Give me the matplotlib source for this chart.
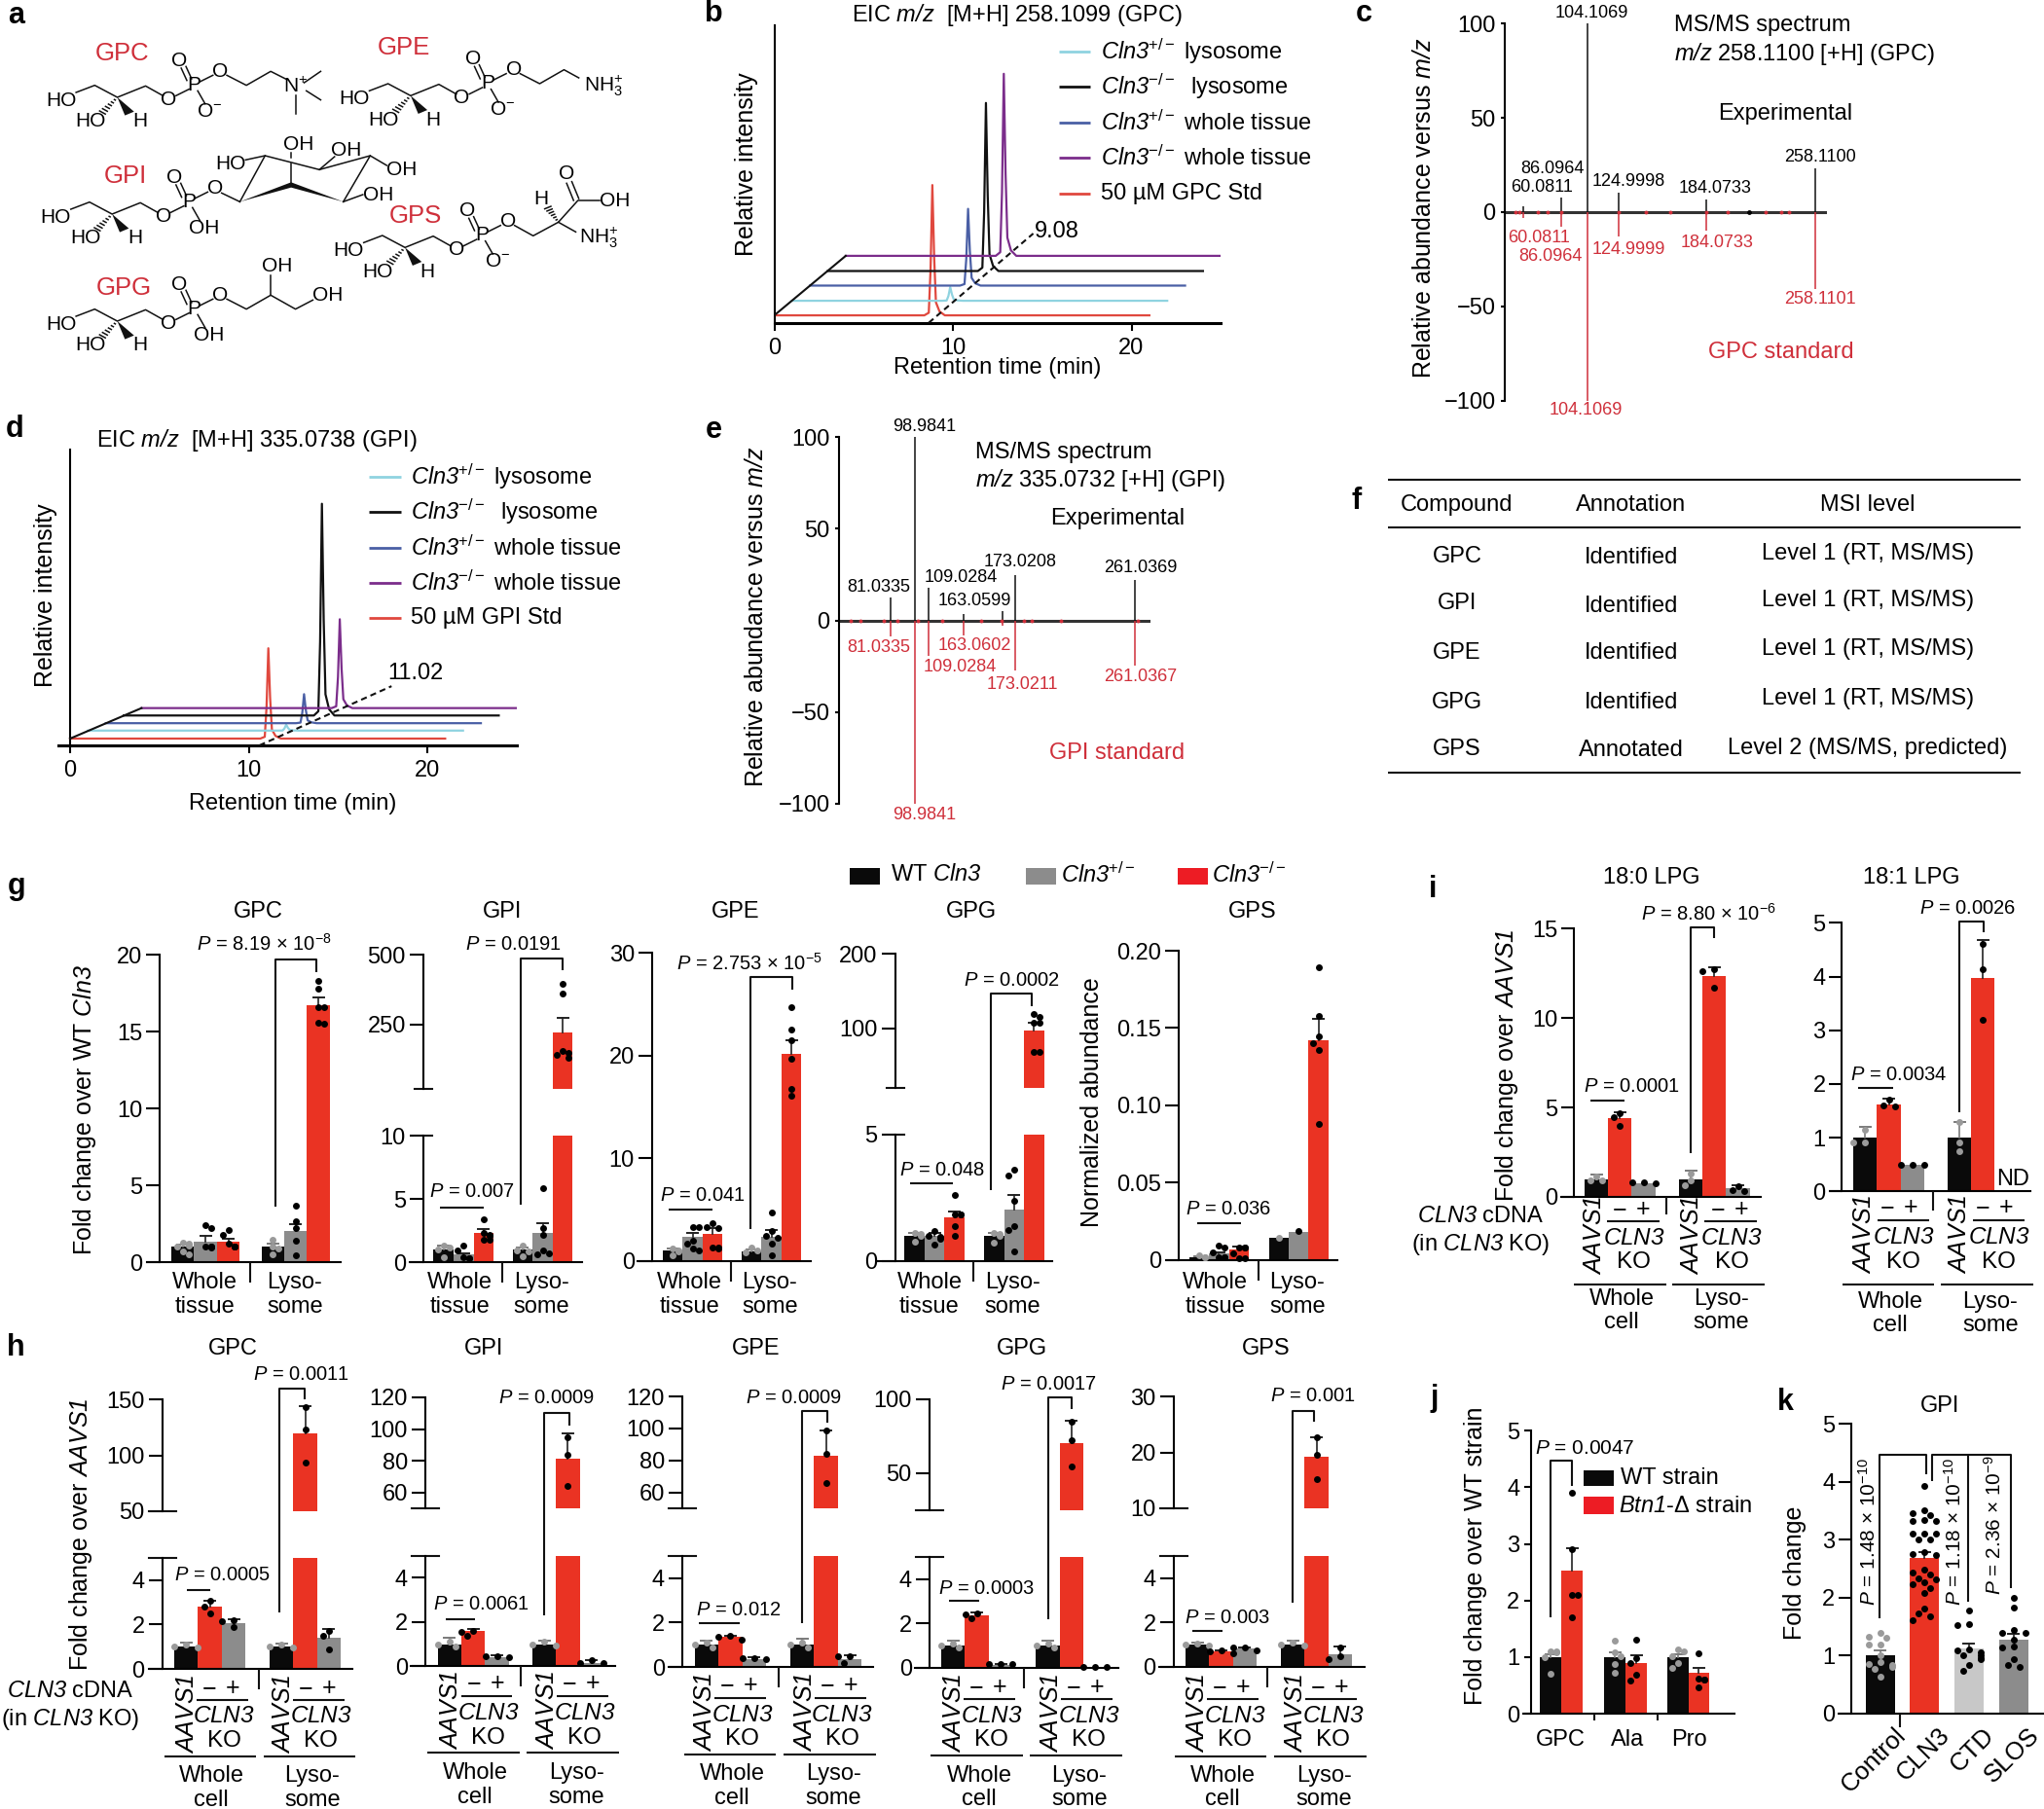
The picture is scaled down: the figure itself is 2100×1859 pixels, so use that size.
#!/usr/bin/env python3

import numpy as np
from matplotlib import pyplot as plt

W, H = 2100, 1859
BLACK = "#0a0a0a"
GRAY = "#8c8c8c"
RED = "#ea3323"
LABEL_RED = "#cf2f3a"
DOT_GRAY = "#9a9a9a"
LW = 1.5

plt.rcParams["font.family"] = ["Liberation Sans", "DejaVu Sans"]
plt.rcParams["mathtext.fontset"] = "custom"
plt.rcParams["mathtext.rm"] = "Liberation Sans"
plt.rcParams["mathtext.it"] = "Liberation Sans:italic"
# mathit drops digits to upright, so bf carries the italic face here
plt.rcParams["mathtext.bf"] = "Liberation Sans:italic"
plt.rcParams["font.size"] = 17

# chromatogram data (b, d)
trace_names = [r"$\mathbf{Cln3}^{+/-}$ lysosome", r"$\mathbf{Cln3}^{-/-}$  lysosome",
               r"$\mathbf{Cln3}^{+/-}$ whole tissue", r"$\mathbf{Cln3}^{-/-}$ whole tissue"]
trace_cols = ["#e0483e", "#8fd3e0", "#4a5fa5", "#111111", "#7b2d8b"]
legend_cols = ["#8fd3e0", "#111111", "#4a5fa5", "#7b2d8b", "#e0483e"]
trace_shift = [0, 1, 2, 3, 4]
trace_end = [21, 22, 23, 24, 25]
peak_rt = [-0.45, -0.2, -0.1, 0.0, 0.1, 0.2, 0.4, 0.7]
peak_shape = [0, 0.02, 0.35, 1, 0.45, 0.1, 0.03, 0]
b_base = [2.5, 7.4, 12.5, 17.4, 22.5]
b_height = [43.8, 4.6, 25.8, 56.5, 61.2]
d_base = [2.3, 5.0, 7.5, 10.1, 12.6]
d_height = [30.5, 2.0, 9.8, 71.5, 30.0]

# spectra data (c, e)
c_mz = [60.0811, 86.0964, 104.1069, 124.9998, 184.0733, 258.11]
c_exp = [3, 8, 100, 10.5, 6.5, 23]
c_std = [-3, -8, -100, -13, -10, -41]
c_minor = [55, 58, 70, 77, 86, 125, 143.5, 160, 184, 199, 224.5, 234.7, 240.5]
c_black_minor = [213]
e_mz = [81.0335, 98.9841, 109.0284, 135.0, 163.06, 173.0208, 261.0369]
e_exp = [12.6, 100, 18, 3.7, 5, 24.8, 22]
e_std = [-9, -100, -19.3, -8, -3, -27.4, -24.6]
e_minor = [51.7, 58.5, 75.8, 85.8, 101, 118.7, 147.6, 163, 179, 184.6, 206.5, 263]

# table f
f_compound = ["GPC", "GPI", "GPE", "GPG", "GPS"]
f_annotation = ["Identified", "Identified", "Identified", "Identified", "Annotated"]
f_level = ["Level 1 (RT, MS/MS)", "Level 1 (RT, MS/MS)", "Level 1 (RT, MS/MS)",
           "Level 1 (RT, MS/MS)", "Level 2 (MS/MS, predicted)"]

# bar data, g
g_gpc_vals = [1.0, 1.37, 1.35, 1.0, 2.05, 16.7]
g_gpc_errs = [1.15, 1.73, 1.55, 1.2, 2.5, 17.2]
g_gpc_dots = [[1.3, 1.2, 1.1, 1.0, 0.7, 0.5], [2.45, 2.25, 1.0, 1.0, 1.0, 0.95],
              [2.1, 1.8, 1.2, 1.0, 1.0, 1.0], [1.45, 1.0, 0.9, 0.5],
              [3.7, 2.7, 2.25, 1.4, 0.45], [18.3, 17.8, 16.6, 16.6, 15.6, 15.5]]
g_gpi_vals = [1.0, 0.6, 2.3, 1.0, 2.3, 221]
g_gpi_errs = [1.3, 0.75, 2.6, 1.2, 3.1, 273]
g_gpi_dots = [[1.3, 1.2, 1.0, 0.4], [1.3, 0.95, 0.4, 0.3, 0.3],
              [3.4, 2.35, 2.2, 2.1, 1.8, 1.8], [1.3, 0.95, 0.9, 0.5],
              [5.9, 2.75, 2.2, 0.95, 0.75, 0.6], [397, 362, 156, 150, 142, 133]]
g_gpe_vals = [1.0, 2.3, 2.66, 0.9, 2.3, 20.15]
g_gpe_errs = [1.2, 2.7, 3.2, 1.1, 3.0, 21.5]
g_gpe_dots = [[1.2, 1.0, 0.9, 0.5], [3.3, 3.3, 2.0, 1.65, 1.2, 1.0],
              [3.7, 3.3, 3.2, 1.3, 1.3, 1.25], [1.3, 1.0, 0.85],
              [4.7, 2.9, 2.45, 2.2, 1.65, 0.5], [24.75, 22.5, 21.5, 19.7, 16.8, 16.1]]
g_gpg_vals = [1.0, 1.0, 1.75, 1.0, 2.05, 97]
g_gpg_errs = [1.1, 1.1, 1.96, 1.1, 2.6, 107]
g_gpg_dots = [[1.13, 1.06, 1.0, 0.77], [1.2, 1.0, 0.97, 0.87, 0.65],
              [2.6, 1.85, 1.85, 1.85, 1.38, 1.0], [1.13, 1.06, 1.0, 0.75],
              [3.6, 3.37, 2.37, 1.4, 1.25, 0.4], [119.6, 115, 108, 107, 68, 68]]
g_gps_vals = [0.002, 0.004, 0.007, 0.014, 0.018, 0.142]
g_gps_errs = [0.0025, 0.005, 0.0085, None, None, 0.156]
g_gps_dots = [[0.003, 0.002, 0.002], [0.009, 0.008, 0.005, 0.002, 0.002, 0.002],
              [0.0078, 0.0078, 0.0078, 0.004, 0.0013, 0.0013], [0.0145],
              [0.0187], [0.189, 0.158, 0.1447, 0.1405, 0.136, 0.088]]

# bar data, h
h_gpc_vals = [1.0, 2.8, 2.08, 1.0, 120, 1.4]
h_gpc_errs = [1.2, 3.07, 2.25, 1.15, 144.5, 1.8]
h_gpc_dots = [[1.1, 1.0, 0.95], [3.07, 2.82, 2.5], [2.2, 2.13, 1.88], [1.1, 1.0, 0.95],
              [143, 123.5, 93.7], [1.72, 1.5, 0.88]]
h_gpi_vals = [1.0, 1.6, 0.42, 1.0, 81.5, 0.15]
h_gpi_errs = [1.3, 1.68, 0.48, 1.15, 97, 0.28]
h_gpi_dots = [[1.1, 1.0, 0.9], [1.6, 1.56, 1.37], [0.45, 0.45, 0.4], [1.1, 1.0, 0.95],
              [95, 84, 64], [0.28, 0.15, 0.15]]
h_gpe_vals = [1.0, 1.36, 0.35, 1.0, 83, 0.35]
h_gpe_errs = [1.2, 1.43, 0.44, 1.3, 99, 0.55]
h_gpe_dots = [[1.1, 1.0, 0.9], [1.4, 1.37, 1.25], [0.42, 0.42, 0.37], [1.1, 1.0, 0.9],
              [99, 84, 66], [0.5, 0.5, 0.2]]
h_gpg_vals = [1.0, 2.35, 0.15, 1.0, 70, 0.03]
h_gpg_errs = [1.25, 2.5, 0.19, 1.25, 85.5, None]
h_gpg_dots = [[1.1, 1.0, 0.9], [2.45, 2.4, 2.22], [0.17, 0.17, 0.17], [1.1, 1.0, 0.9],
              [85, 72, 54.5], [0.03, 0.03, 0.03]]
h_gps_vals = [1.0, 0.68, 0.82, 1.0, 19.2, 0.55]
h_gps_errs = [1.1, 0.74, 0.88, 1.15, 22.8, 0.9]
h_gps_dots = [[1.05, 1.0, 0.95], [0.72, 0.68, 0.6], [0.85, 0.85, 0.75], [1.1, 1.0, 0.95],
              [22.7, 19.6, 15.3], [0.85, 0.48, 0.35]]

# bar data, i
i_180_vals = [1.0, 4.4, 0.75, 1.0, 12.35, 0.5]
i_180_errs = [1.25, 4.75, None, 1.45, 12.85, 0.65]
i_180_dots = [[1.15, 0.95, 0.9], [4.7, 4.45, 3.95], [0.8, 0.8, 0.75], [1.3, 0.9, 0.65],
              [12.75, 12.6, 11.7], [0.6, 0.4, 0.3]]
i_181_vals = [1.0, 1.62, 0.5, 1.0, 3.98]
i_181_errs = [1.2, 1.72, None, 1.3, 4.68]
i_181_dots = [[1.15, 0.92, 0.92], [1.7, 1.6, 1.58], [0.5, 0.5, 0.5], [1.3, 0.92, 0.74],
              [4.6, 4.13, 3.2]]

# bar data, j and k
j_groups = ["GPC", "Ala", "Pro"]
j_vals = [1.0, 2.53, 1.0, 0.9, 1.0, 0.72]
j_errs = [1.05, 2.93, 1.09, 1.03, 1.05, 0.8]
j_dots = [[1.1, 1.1, 1.08, 1.0, 0.7], [3.9, 2.9, 2.1, 2.1, 1.7],
          [1.29, 1.08, 1.02, 0.88, 0.72], [1.3, 0.98, 0.9, 0.68, 0.58],
          [1.14, 1.1, 1.02, 0.9, 0.8], [1.07, 0.62, 0.6, 0.6, 0.46]]
k_groups = ["Control", "CLN3", "CTD", "SLOS"]
k_vals = [1.0, 2.68, 1.12, 1.27]
k_errs = [1.09, 2.79, 1.21, 1.37]
k_dots = [[1.39, 1.33, 1.3, 1.19, 1.19, 1.0, 0.88, 0.85, 0.83, 0.8, 0.77, 0.63],
          [3.93, 3.51, 3.46, 3.43, 3.34, 3.32, 3.32, 3.1, 3.1, 3.1, 3.0, 3.0, 2.79, 2.76,
           2.74, 2.48, 2.43, 2.4, 2.34, 2.31, 2.26, 2.23, 2.17, 2.08, 1.81, 1.72, 1.67, 1.61],
          [1.77, 1.54, 1.53, 1.11, 1.08, 1.05, 1.0, 1.0, 0.96, 0.94, 0.83, 0.74],
          [2.0, 1.83, 1.44, 1.39, 1.39, 1.28, 1.16, 1.13, 0.94, 0.83, 0.8]]

COL_G = [BLACK, GRAY, RED, BLACK, GRAY, RED]
COL_H = [BLACK, RED, GRAY, BLACK, RED, GRAY]

fig = plt.figure(figsize=(W / 100, H / 100), dpi=100)


def px_axes(x0, y_top, x1, y_bot, zorder=1):
    ax = fig.add_axes([x0 / W, 1 - y_bot / H, (x1 - x0) / W, (y_bot - y_top) / H], zorder=zorder)
    ax.patch.set_visible(False)
    return ax


over = px_axes(0, 0, W, H, zorder=10)
over.set_xlim(0, W)
over.set_ylim(H, 0)
over.axis("off")


def t(x, y, s, size=17, color="black", ha="center", **kw):
    over.text(x, y, s, fontsize=size, color=color, ha=ha, va="center", **kw)


def seg(xs, ys, lw=LW, **kw):
    over.plot(xs, ys, color=kw.pop("color", "#111111"), lw=lw, solid_capstyle="butt", **kw)


def panel_letter(x, y, s):
    t(x, y, s, size=22, fontweight="bold")


def pval(x, y, s, size=14.5, **kw):
    t(x, y, "$\\mathbf{P}$ = " + s, size=size, **kw)


def bracket(x0, y0, ytop, x1, y1):
    seg([x0, x0, x1, x1], [y0, ytop, ytop, y1])


def swarm_offsets(ys_px, half):
    placed = []
    for y in ys_px:
        for cand in [0, -6, 6, -12, 12, -18, 18]:
            if abs(cand) > half:
                continue
            use = cand
            if all((use - a) ** 2 + (y - b) ** 2 >= 49 for a, b in placed):
                break
        placed.append((use, y))
    return [p[0] for p in placed]


def bar_panel(axis_x, base, starts, width, n, segs, ticks, vals, errs, dots, cols,
              tick_len=14, cap=9, labels=None):
    axes = []
    for i, (v0, p0, v1, p1) in enumerate(segs):
        ax = px_axes(base[0], p1, base[1], p0)
        ax.set_xlim(base)
        ax.set_ylim(v0, v1)
        ax.set_xticks([])
        for side in ("top", "right"):
            ax.spines[side].set_visible(False)
        ax.spines["bottom"].set_visible(i == 0)
        ax.spines["left"].set_position(("data", axis_x))
        for side in ("left", "bottom"):
            ax.spines[side].set_linewidth(LW)
        lab = labels[i] if labels else [str(v) for v in ticks[i]]
        ax.set_yticks(ticks[i], lab)
        ax.tick_params(axis="y", length=tick_len * 0.72, width=LW, pad=3, labelsize=17)
        if len(segs) > 1:
            capv = v1 if i == 0 else v0
            ax.plot([axis_x - cap, axis_x + cap], [capv, capv], color="#111111", lw=LW,
                    clip_on=False)
        axes.append(ax)
    centres = []
    for s in starts:
        centres += [s + width * (j + 0.5) for j in range(n)]
    for c, v, e, ds, col in zip(centres, vals, errs, dots, cols):
        for ax in axes:
            ax.bar(c, v, width=width, color=col, linewidth=0, zorder=2)
        home = next((a for a, sg in zip(axes, segs) if v <= sg[2]), axes[-1])
        err_col = "#7a7a7a" if col == BLACK else "#222222"
        if e is not None:
            home.plot([c, c], [v, e], color=err_col, lw=1.2, zorder=3, clip_on=False)
            home.plot([c - 5.5, c + 5.5], [e, e], color=err_col, lw=1.4, zorder=3, clip_on=False)
        ds_px = []
        for d in ds:
            sg = next((sg for sg in segs if d <= sg[2]), segs[-1])
            ds_px.append(sg[1] + (d - sg[0]) * (sg[3] - sg[1]) / (sg[2] - sg[0]))
        offs = swarm_offsets(ds_px, width / 2)
        for d, off in zip(ds, offs):
            a = next((a for a, sg in zip(axes, segs) if d <= sg[2]), axes[-1])
            a.plot(c + off, d, "o", ms=5, color=DOT_GRAY if col == BLACK else "black",
                   mew=0, zorder=4, clip_on=False)
    return axes[0], centres


def sample_labels(aavs, y_sign, y_line, y_cln, y_ko, ends, whole_x, lyso_x, y_w, y_c, y_under,
                  dm=25.4, dp=49.2, dl=(12.4, 65.0), dc=40.5):
    for x in aavs:
        t(x + 2, (y_line + y_ko) / 2 - 7, "$\\mathbf{AAVS1}$", size=18, rotation=90)
        t(x + dm, y_sign, "\u2212", size=18)
        t(x + dp, y_sign, "+", size=18)
        seg([x + dl[0], x + dl[1]], [y_line, y_line])
        t(x + dc, y_cln, "$\\mathbf{CLN3}$", size=17.5)
        t(x + dc, y_ko, "KO", size=17.5)
    for a, b in ends:
        seg([a, b], [y_under, y_under])
    t(whole_x, y_w, "Whole")
    t(whole_x, y_c, "cell")
    t(lyso_x, y_w, "Lyso-")
    t(lyso_x, y_c, "some")


def tissue_labels(whole_x, lyso_x, divider, y_base):
    t(whole_x, 1318, "Whole")
    t(whole_x, 1343, "tissue")
    t(lyso_x, 1318, "Lyso-")
    t(lyso_x, 1343, "some")
    seg([divider, divider], [y_base, y_base + 21])


def waterfall(x0, y_bot, y_top, left, base, height, dash, peak_at):
    scale = 18.35
    ax = px_axes(x0 - left * scale, y_top, x0 + 25 * scale, y_bot)
    ax.set_xlim(-left, 25)
    ax.set_ylim(0, 100)
    for side in ("top", "right"):
        ax.spines[side].set_visible(False)
    ax.spines["left"].set_position(("data", 0))
    ax.spines["left"].set_linewidth(LW)
    ax.spines["bottom"].set_linewidth(2.2)
    ax.set_yticks([])
    ax.set_xticks([0, 10, 20])
    ax.tick_params(axis="x", length=6, width=LW, pad=5, labelsize=17)
    for sh, end, b, h, col in zip(trace_shift, trace_end, base, height, trace_cols):
        xs = [sh] + [peak_at + sh + r for r in peak_rt] + [end]
        ys = [b] + [b + h * p for p in peak_shape] + [b]
        ax.plot(xs, ys, color=col, lw=1.6, zorder=2)
    ax.plot([trace_shift[0], trace_shift[-1]], [base[0], base[-1]], color="#111111", lw=LW, zorder=3)
    ax.plot(dash[0], dash[1], color="#111111", lw=LW, linestyle=(0, (3, 2)), zorder=3, clip_on=False)
    return ax


def legend_rows(x0, x1, text_x, ys, names):
    for y, col, name in zip(ys, legend_cols, names):
        seg([x0, x1], [y, y], lw=2, color=col)
        t(text_x, y, name, ha="left")


def spectrum(x0, x1, ytop, ybot, mz_lim, mz, exp, std, minor, black_minor):
    ax = px_axes(x0, ytop, x1, ybot)
    ax.set_xlim(mz_lim)
    ax.set_ylim(-100, 100)
    for side in ("top", "right", "bottom"):
        ax.spines[side].set_visible(False)
    ax.spines["left"].set_linewidth(LW)
    ax.set_xticks([])
    ax.set_yticks([-100, -50, 0, 50, 100], ["\u2212100", "\u221250", "0", "50", "100"])
    ax.tick_params(axis="y", length=3, width=LW, pad=4, labelsize=17)
    ax.axhline(0, color="#333333", lw=2.2, zorder=1)
    ax.vlines(mz, 0, exp, color="#111111", lw=1.1, zorder=3)
    ax.vlines(mz, 0, std, color=LABEL_RED, lw=1.1, zorder=2)
    ax.plot(minor, [0] * len(minor), "o", ms=2.8, color=LABEL_RED, mew=0, zorder=4)
    ax.plot(black_minor, [0] * len(black_minor), "o", ms=3.5, color="black", mew=0, zorder=4)


# panel a: structures
chem = px_axes(0, 0, 700, 420)
chem.set_xlim(0, 1568)
chem.set_ylim(1260, 0)
chem.axis("off")


def bond(*pts):
    chem.plot([p[0] for p in pts], [p[1] for p in pts], color="#111111", lw=1.1)


def atom(x, y, s):
    chem.text(x, y, s, fontsize=15, ha="center", va="center")


def hashed(a, b):
    a, b = np.array(a, float), np.array(b, float)
    d = b - a
    nrm = np.array([-d[1], d[0]]) / np.hypot(*d)
    for f in (0.15, 0.3, 0.45, 0.6, 0.75, 0.9):
        p = a + d * f
        bond(p - nrm * 9 * f, p + nrm * 9 * f)


def wedge(a, b, thick=12):
    a, b = np.array(a, float), np.array(b, float)
    d = b - a
    nrm = np.array([-d[1], d[0]]) / np.hypot(*d)
    q1, q2 = b - nrm * thick, b + nrm * thick
    chem.fill([a[0], q1[0], q2[0]], [a[1], q1[1], q2[1]], color="#111111", lw=0)


def glycero(dx, dy, last):
    def P(x, y):
        return (x + dx, y + dy)
    atom(*P(140, 310), "HO")
    bond(P(175, 285), P(218, 263), P(270, 300), P(335, 265), P(375, 295))
    atom(*P(388, 307), "O")
    bond(P(405, 295), P(435, 275))
    atom(*P(447, 262), "P")
    bond(P(441, 243), P(428, 205))
    bond(P(430, 248), P(417, 210))
    atom(*P(413, 187), "O")
    bond(P(460, 252), P(490, 232))
    atom(*P(507, 220), "O")
    bond(P(455, 280), P(472, 320))
    atom(*P(482, 343), last)
    atom(*P(208, 375), "HO")
    hashed(P(270, 300), P(232, 352))
    wedge(P(270, 300), P(298, 350))
    atom(*P(322, 375), "H")


glycero(0, 0, "O$^{-}$")
bond((522, 232), (567, 263), (623, 220), (660, 245))
atom(680, 268, "N$^{+}$")
bond((700, 255), (738, 220))
bond((705, 280), (738, 308))
bond((680, 295), (680, 352))
glycero(675, -5, "O$^{-}$")
bond((1197, 227), (1242, 258), (1298, 215), (1332, 240))
atom(1388, 264, "NH$_3^{+}$")
glycero(-12, 360, "OH")
bond((510, 595), (552, 622))
chem.fill([552, 670, 790, 670], [622, 562, 622, 578], color="#111111", lw=0)
bond((552, 622), (610, 480), (735, 523), (852, 480), (790, 622))
bond((670, 572), (670, 505))
bond((670, 485), (670, 470))
bond((565, 493), (610, 480))
bond((735, 523), (770, 483))
bond((852, 480), (890, 510))
bond((790, 622), (835, 600))
atom(530, 505, "HO")
atom(688, 447, "OH")
atom(797, 462, "OH")
atom(925, 525, "OH")
atom(870, 600, "OH")
glycero(662, 463, "O$^{-}$")
bond((1184, 695), (1227, 727), (1285, 685), (1330, 618), (1380, 618))
bond((1332, 612), (1316, 560))
bond((1320, 618), (1304, 565))
atom(1305, 537, "O")
atom(1415, 620, "OH")
atom(1245, 612, "H")
hashed((1285, 685), (1258, 635))
bond((1285, 685), (1325, 715))
atom(1378, 733, "NH$_3^{+}$")
glycero(0, 690, "OH")
bond((522, 922), (567, 953), (623, 910), (680, 953), (720, 925))
bond((623, 910), (623, 848))
atom(755, 910, "OH")
atom(638, 820, "OH")
for lx, ly, name in [(282, 165, "GPC"), (929, 148, "GPE"), (288, 543, "GPI"),
                     (957, 665, "GPS"), (285, 888, "GPG")]:
    chem.text(lx, ly, name, fontsize=18.5, color=LABEL_RED, ha="center", va="center")

panel_letter(17, 16, "a")
panel_letter(733, 14, "b")
panel_letter(1401, 14, "c")
panel_letter(15, 441, "d")
panel_letter(733, 442, "e")
panel_letter(1394, 515, "f")
panel_letter(17, 911, "g")
panel_letter(16, 1385, "h")
panel_letter(1472, 914, "i")
panel_letter(1474, 1437, "j")
panel_letter(1834, 1441, "k")

# panel b
waterfall(795.5, 331.7, 26, 0, b_base, b_height, ([8.65, 14.5], [0, 30]), 8.85)
t(1045, 15, r"EIC $\mathbf{m/z}$  [M+H] 258.1099 (GPC)")
t(1025, 378, "Retention time (min)")
t(767, 169, "Relative intensity", size=18, rotation=90)
t(1086, 238, "9.08")
legend_rows(1088, 1120, 1131, [52.7, 89.3, 126, 162.3, 199], trace_names + ["50 \u00b5M GPC Std"])

# panel c
spectrum(1546.4, 1877, 24.3, 411.7, (48.1, 266), c_mz, c_exp, c_std, c_minor, c_black_minor)
t(1463, 214, r"Relative abundance versus $\mathbf{m/z}$", size=18, rotation=90)
t(1720, 26, "MS/MS spectrum", ha="left")
t(1720, 55, r"$\mathbf{m/z}$ 258.1100 [+H] (GPC)", ha="left")
t(1834, 117, "Experimental")
t(1830, 362, "GPC standard", color=LABEL_RED)
for x, y, s in [(1635, 13, "104.1069"), (1595, 173, "86.0964"), (1584, 192, "60.0811"),
                (1673, 186, "124.9998"), (1762, 193, "184.0733"), (1870, 161, "258.1100")]:
    t(x, y, s, size=13)
for x, y, s in [(1581, 244, "60.0811"), (1593, 263, "86.0964"), (1673, 256, "124.9999"),
                (1764, 249, "184.0733"), (1870, 307, "258.1101"), (1629, 421, "104.1069")]:
    t(x, y, s, size=13, color=LABEL_RED)

# panel d
waterfall(72, 766, 461.7, 0.65, d_base, d_height, ([10.6, 18], [0, 20]), 11.1)
t(264, 452, r"EIC $\mathbf{m/z}$  [M+H] 335.0738 (GPI)")
t(301, 826, "Retention time (min)")
t(47, 612, "Relative intensity", size=18, rotation=90)
t(427, 692, "11.02")
legend_rows(379, 412, 422, [490, 526, 563, 599, 635], trace_names + ["50 \u00b5M GPI Std"])

# panel e
spectrum(862.3, 1182, 449.3, 825.7, (43, 272.5), e_mz, e_exp, e_std, e_minor, [])
t(777, 634, r"Relative abundance versus $\mathbf{m/z}$", size=18, rotation=90)
t(1002, 465, "MS/MS spectrum", ha="left")
t(1002, 493, r"$\mathbf{m/z}$ 335.0732 [+H] (GPI)", ha="left")
t(1148, 533, "Experimental")
t(1148, 774, "GPI standard", color=LABEL_RED)
for x, y, s in [(950, 438, "98.9841"), (903, 603, "81.0335"), (987, 594, "109.0284"),
                (1001, 617, "163.0599"), (1048, 577, "173.0208"), (1172, 583, "261.0369")]:
    t(x, y, s, size=13)
for x, y, s in [(903, 666, "81.0335"), (1001, 664, "163.0602"), (986, 685, "109.0284"),
                (1050, 703, "173.0211"), (1172, 695, "261.0367"), (950, 837, "98.9841")]:
    t(x, y, s, size=13, color=LABEL_RED)

# panel f
seg([1426, 2076], [493, 493])
seg([1426, 2076], [542, 542])
seg([1426, 2076], [794, 794])
t(1497, 519, "Compound")
t(1676, 519, "Annotation")
t(1919, 519, "MSI level")
for name, y in zip(f_compound, [572, 620, 671, 722, 770]):
    t(1497, y, name)
for name, y in zip(f_annotation, [573, 623, 671, 722, 771]):
    t(1676, y, name)
for name, y in zip(f_level, [569, 617, 667, 718, 769]):
    t(1919, y, name)

# panel g
over.add_patch(plt.Rectangle((873, 892), 31, 17, color=BLACK, lw=0))
t(915, 899, r"WT $\mathbf{Cln3}$", ha="left")
over.add_patch(plt.Rectangle((1054, 892), 31, 17, color=GRAY, lw=0))
t(1090, 899, r"$\mathbf{Cln3}^{+/-}$", ha="left")
over.add_patch(plt.Rectangle((1210, 892), 31, 17, color="#ed1c24", lw=0))
t(1245, 899, r"$\mathbf{Cln3}^{-/-}$", ha="left")
for x, name in [(265, "GPC"), (516, "GPI"), (756, "GPE"), (998, "GPG"), (1287, "GPS")]:
    t(x, 937, name)

bar_panel(164.4, (150.6, 350), [176, 268.6], 23.4, 3, [(0, 1297.3, 20, 981)],
          [[0, 5, 10, 15, 20]], g_gpc_vals, g_gpc_errs, g_gpc_dots, COL_G)
t(87, 1140, r"Fold change over WT $\mathbf{Cln3}$", size=18, rotation=90)
pval(271, 970, r"8.19 × 10$^{-8}$")
bracket(283, 1240, 986, 325, 999)
tissue_labels(210, 303, 257, 1297)

bar_panel(435, (421.5, 598), [445.4, 526.6], 20.6, 3,
          [(0, 1297.3, 10, 1167.3), (20, 1119, 500, 981)],
          [[0, 5, 10], [250, 500]], g_gpi_vals, g_gpi_errs, g_gpi_dots, COL_G)
pval(527, 970, "0.0191")
bracket(535, 1238, 985, 577.6, 997)
pval(485, 1224, "0.007")
seg([452, 497], [1241, 1241])
tissue_labels(472, 556.5, 515.6, 1297)

bar_panel(670, (655, 833.4), [681, 762], 20.4, 3, [(0, 1295.7, 30, 979.3)],
          [[0, 10, 20, 30]], g_gpe_vals, g_gpe_errs, g_gpe_dots, COL_G)
pval(770, 990, r"2.753 × 10$^{-5}$")
bracket(771.4, 1263, 1004, 814, 1017)
pval(722, 1228, "0.041")
seg([687, 731.5], [1243, 1243])
tissue_labels(708, 791, 751, 1296)

bar_panel(919.7, (902, 1081), [929.4, 1011], 20.5, 3,
          [(0, 1296, 5, 1166), (20, 1118, 200, 980.3)],
          [[0, 5], [100, 200]], g_gpg_vals, g_gpg_errs, g_gpg_dots, COL_G)
pval(1039, 1007, "0.0002")
bracket(1018.4, 1223, 1021, 1060, 1034)
pval(968, 1202, "0.048")
seg([935, 979.4], [1216, 1216])
tissue_labels(955, 1040, 1000, 1296)

bar_panel(1211, (1199, 1374), [1221.8, 1303.6], 20.4, 3, [(0, 1294.7, 0.2, 977)],
          [[0, 0.05, 0.1, 0.15, 0.2]], g_gps_vals, g_gps_errs, g_gps_dots, COL_G,
          labels=[["0", "0.05", "0.10", "0.15", "0.20"]])
t(1122, 1133, "Normalized abundance", size=18, rotation=90)
pval(1262, 1243, "0.036")
seg([1229.6, 1274.6], [1257, 1257])
tissue_labels(1248, 1333, 1292.5, 1295)

# panel h
for x, name in [(239, "GPC"), (497, "GPI"), (777, "GPE"), (1050, "GPG"), (1301, "GPS")]:
    t(x, 1386, name)

bar_panel(166.7, (153, 361.8), [179, 276.9], 24.4, 3,
          [(0, 1715, 5, 1601), (50, 1552.7, 150, 1438.3)],
          [[0, 2, 4], [50, 100, 150]], h_gpc_vals, h_gpc_errs, h_gpc_dots, COL_H, cap=14)
t(83, 1577, r"Fold change over $\mathbf{AAVS1}$", size=18, rotation=90)
t(72, 1738, r"$\mathbf{CLN3}$ cDNA")
t(72, 1767, r"(in $\mathbf{CLN3}$ KO)")
pval(309, 1413, "0.0011")
bracket(287, 1657, 1427, 313, 1438)
pval(228, 1618, "0.0005")
seg([191.5, 215.8], [1634, 1634])
seg([265.8, 265.8], [1715, 1736])
sample_labels([189.6, 289], 1735, 1747, 1764, 1789, [(168.5, 262.6), (271, 365)], 217, 321,
              1825, 1850, 1805)

bar_panel(437, (422.4, 632), [449.5, 546.8], 24.4, 3,
          [(0, 1712.3, 5, 1598.7), (50, 1550, 120, 1436)],
          [[0, 2, 4], [60, 80, 100, 120]], h_gpi_vals, h_gpi_errs, h_gpi_dots, COL_H, cap=14)
pval(561, 1436, "0.0009")
bracket(559, 1660, 1452, 585, 1465)
pval(494, 1649, "0.0061")
seg([457.7, 488], [1664, 1664])
seg([535, 535], [1712, 1733])
sample_labels([461.4, 560], 1730, 1743, 1761, 1786, [(438.5, 533.5), (541, 636)], 488, 592,
              1822, 1847, 1801)

bar_panel(701, (687.3, 897), [713.5, 811.8], 24.5, 3,
          [(0, 1713.3, 5, 1598.7), (50, 1550, 120, 1435)],
          [[0, 2, 4], [60, 80, 100, 120]], h_gpe_vals, h_gpe_errs, h_gpe_dots, COL_H, cap=14)
pval(815, 1436, "0.0009")
bracket(823.8, 1668, 1450, 850, 1462)
pval(759, 1655, "0.012")
seg([718, 760], [1668, 1668])
seg([800.3, 800.3], [1713, 1734])
sample_labels([722, 824.7], 1732, 1745, 1763, 1787, [(702.5, 797), (805, 900)], 752, 856,
              1823, 1848, 1803)

bar_panel(955, (940.4, 1149.3), [967, 1064.3], 24.4, 3,
          [(0, 1714, 5, 1600), (25, 1552, 100, 1437.7)],
          [[0, 2, 4], [50, 100]], h_gpg_vals, h_gpg_errs, h_gpg_dots, COL_H, cap=14)
pval(1077, 1422, "0.0017")
bracket(1076.7, 1664, 1436, 1100.6, 1448)
pval(1014, 1632, "0.0003")
seg([975, 1006], [1645, 1645])
seg([1052, 1052], [1714, 1735])
sample_labels([978, 1078], 1734, 1746, 1764, 1788, [(955.5, 1050.6), (1058, 1153)], 1006, 1109,
              1825, 1849, 1804)

bar_panel(1205.8, (1190.6, 1401.8), [1218, 1316], 24.4, 3,
          [(0, 1712.7, 5, 1598.7), (10, 1550, 30, 1435.3)],
          [[0, 2, 4], [10, 20, 30]], h_gps_vals, h_gps_errs, h_gps_dots, COL_H, cap=14)
pval(1349, 1435, "0.001")
bracket(1328.4, 1647, 1450, 1350, 1461)
pval(1261, 1662, "0.003")
seg([1225, 1255.8], [1676, 1676])
seg([1302, 1302], [1713, 1734])
sample_labels([1228, 1329], 1734, 1746, 1764, 1788, [(1206.7, 1301), (1309, 1404)], 1256, 1360.5,
              1825, 1849, 1805)

# panel i
t(1697, 902, "18:0 LPG")
t(1964, 902, "18:1 LPG")
bar_panel(1616.8, (1604, 1809), [1628, 1725], 24.2, 3, [(0, 1230, 15, 954.3)],
          [[0, 5, 10, 15]], i_180_vals, i_180_errs, i_180_dots, COL_H, tick_len=12.6)
t(1548, 1095, r"Fold change over $\mathbf{AAVS1}$", size=18, rotation=90)
t(1521, 1250, r"$\mathbf{CLN3}$ cDNA")
t(1521, 1279, r"(in $\mathbf{CLN3}$ KO)")
pval(1755, 939, r"8.80 × 10$^{-6}$")
bracket(1736.7, 1185, 953, 1761, 964)
pval(1676, 1117, "0.0001")
seg([1633.6, 1669], [1131, 1131])
seg([1711.5, 1711.5], [1230, 1248])
sample_labels([1635.7, 1736], 1243, 1255, 1273, 1297, [(1616.8, 1711.5), (1717.8, 1812.5)],
              1666, 1768, 1335, 1359, 1320, dm=28.6, dp=52.6, dl=(15, 69), dc=43)

bar_panel(1892.4, (1879.8, 2086), [1904.2, 2001], 24.2, 3, [(0, 1224.3, 5, 948.3)],
          [[0, 1, 2, 3, 4, 5]], i_181_vals, i_181_errs, i_181_dots, COL_H, tick_len=12.6)
t(2068, 1212, "ND")
pval(2022, 933, "0.0026")
bracket(2013, 1143, 947, 2037.6, 958)
pval(1951, 1105, "0.0034")
seg([1909, 1945], [1118, 1118])
seg([1986.3, 1986.3], [1224, 1244])
sample_labels([1913.5, 2011.5], 1241, 1254, 1272, 1297, [(1893.3, 1987), (1994.3, 2089)],
              1942, 2045, 1338, 1362, 1320, dm=26, dp=50, dl=(15, 68), dc=42)

# panel j
ax_j, cen_j = bar_panel(1572.6, (1565.4, 1782), [1582.3, 1648.3, 1712.7], 21.8, 2,
                        [(0, 1761, 5, 1470.3)], [[0, 1, 2, 3, 4, 5]],
                        j_vals, j_errs, j_dots, [BLACK, RED] * 3, tick_len=7)
for x, name in zip([1603, 1672, 1735], j_groups):
    t(x, 1788, name)
seg([1637.8, 1637.8], [1761, 1768])
seg([1703, 1703], [1761, 1768])
t(1516, 1599, "Fold change over WT strain", size=18, rotation=90)
pval(1628, 1489, "0.0047", size=15)
bracket(1592.8, 1662, 1501, 1615, 1527)
over.add_patch(plt.Rectangle((1627, 1511), 31, 16, color=BLACK, lw=0))
t(1665, 1519, "WT strain", ha="left")
over.add_patch(plt.Rectangle((1627, 1538), 31, 18, color="#ed1c24", lw=0))
t(1663, 1548, r"$\mathbf{Btn1}$-Δ strain", ha="left")

# panel k
ax_k, cen_k = bar_panel(1902, (1889.5, 2098.7), [1916.9, 1962.3, 2008, 2053.6], 30, 1,
                        [(0, 1760.7, 5, 1463.3)], [[0, 1, 2, 3, 4, 5]],
                        k_vals, k_errs, k_dots, [BLACK, RED, "#c8c8c8", GRAY], tick_len=12.6)
for c, name in zip(cen_k, k_groups):
    over.text(c + 14, 1771, name, fontsize=18.5, rotation=45, ha="right", va="top",
              rotation_mode="anchor")
seg([1951.8, 1951.8], [1761, 1775])
t(1993, 1445, "GPI")
t(1844, 1616, "Fold change", size=18, rotation=90)
pval(1920, 1574, r"1.48 × 10$^{-10}$", rotation=90, size=15)
pval(2008, 1574, r"1.18 × 10$^{-10}$", rotation=90, size=15)
pval(2049, 1567, r"2.36 × 10$^{-9}$", rotation=90, size=15)
bracket(1931, 1663, 1495, 1978.7, 1515)
bracket(1984.6, 1522, 1495, 2065.8, 1632)
seg([2021.6, 2021.6], [1495, 1646])

plt.savefig("out.png", dpi=100)
